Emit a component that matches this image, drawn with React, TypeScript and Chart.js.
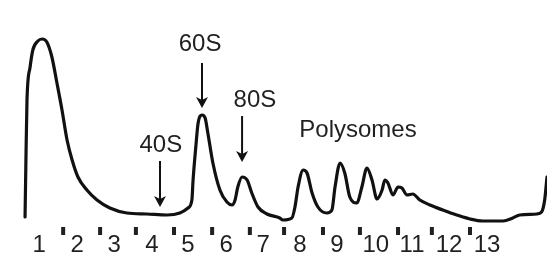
import React, { useEffect, useRef } from "react";
import { Chart, registerables } from "chart.js";

Chart.register(...registerables);

// Absorbance trace (x = position along the gradient, y = A254, arbitrary units)
const traceX = [
  0.59, 0.61, 0.64, 0.72, 0.79, 0.92, 1.03, 1.15, 1.28, 1.41, 1.54, 1.67, 1.8, 1.95, 2.18, 2.44, 2.77, 3.21, 3.72, 4.24,
  4.57, 4.78, 4.88, 4.91, 4.98, 5.04, 5.14, 5.22, 5.29, 5.42, 5.6, 5.78, 5.91, 5.99, 6.06, 6.17, 6.3, 6.42, 6.58, 6.81,
  7.14, 7.22, 7.45, 7.53, 7.61, 7.74, 7.84, 7.97, 8.12, 8.35, 8.48, 8.56, 8.69, 8.81, 8.94, 9.12, 9.25, 9.38, 9.51, 9.64,
  9.77, 9.84, 9.92, 10.05, 10.18, 10.28, 10.41, 10.56, 10.74, 11.0, 11.33, 11.69, 12.03, 12.36, 12.88, 13.13, 13.31, 13.75,
  13.87, 13.95, 14.01,
];
const traceY = [
  0.44, 0.94, 1.61, 1.94, 2.11, 2.2, 2.22, 2.19, 2.04, 1.78, 1.51, 1.21, 1.01, 0.84, 0.71, 0.61, 0.53, 0.48, 0.47, 0.46,
  0.48, 0.53, 0.61, 0.81, 1.14, 1.38, 1.46, 1.43, 1.28, 0.98, 0.71, 0.59, 0.56, 0.61, 0.74, 0.84, 0.81, 0.68, 0.54, 0.47,
  0.43, 0.41, 0.43, 0.54, 0.74, 0.91, 0.88, 0.68, 0.54, 0.48, 0.51, 0.74, 0.98, 0.88, 0.64, 0.58, 0.74, 0.93, 0.81, 0.62,
  0.71, 0.81, 0.78, 0.66, 0.74, 0.73, 0.66, 0.67, 0.61, 0.56, 0.51, 0.46, 0.42, 0.4, 0.4, 0.43, 0.46, 0.47,
  0.49, 0.61, 0.84,
];

// Fraction numbers and the dividers between collected fractions
const fractionLabels = ["1", "2", "3", "4", "5", "6", "7", "8", "9", "10", "11", "12", "13"];
const fractionCenters = [0.95, 1.93, 2.88, 3.85, 4.78, 5.76, 6.71, 7.66, 8.61, 9.61, 10.54, 11.49, 12.47];
const dividerX = [1.57, 2.52, 3.44, 4.42, 5.4, 6.37, 7.25, 8.25, 9.2, 10.18, 11.05, 12.03];
const dividerTop = 0.34;
const dividerBottom = 0.26;
const fractionLabelBaseline = 0.09;

// Peak annotations
const annotationTexts = ["40S", "60S", "80S", "Polysomes"];
const annotationTextX = [4.08, 5.09, 6.5, 9.15];
const annotationTextY = [1.09, 2.1, 1.54, 1.24];
const arrowX = [4.06, 5.14, 6.17, null];
const arrowFrom = [1.0, 1.98, 1.45, null];
const arrowTo = [0.54, 1.53, 0.99, null];

const FONT = '24px "Liberation Sans", Arial, sans-serif';
const TEXT_COLOR = "#231f20";

const annotationPlugin = {
  id: "profileAnnotations",
  afterDatasetsDraw(chart: any) {
    const { ctx } = chart;
    const xs = chart.scales.x;
    const ys = chart.scales.y;
    ctx.save();
    // fraction dividers
    ctx.fillStyle = TEXT_COLOR;
    dividerX.forEach((v) => {
      const px = xs.getPixelForValue(v);
      const top = ys.getPixelForValue(dividerTop);
      const bot = ys.getPixelForValue(dividerBottom);
      ctx.fillRect(px - 2, top, 4, bot - top);
    });
    // fraction numbers
    ctx.font = FONT;
    ctx.textAlign = "center";
    ctx.textBaseline = "alphabetic";
    fractionLabels.forEach((t, i) => {
      ctx.fillText(t, xs.getPixelForValue(fractionCenters[i]), ys.getPixelForValue(fractionLabelBaseline));
    });
    // annotations
    annotationTexts.forEach((t, i) => {
      ctx.fillStyle = TEXT_COLOR;
      ctx.fillText(t, xs.getPixelForValue(annotationTextX[i]), ys.getPixelForValue(annotationTextY[i]));
      const ax = arrowX[i];
      if (ax == null) return;
      const px = xs.getPixelForValue(ax);
      const y0 = ys.getPixelForValue(arrowFrom[i] as number);
      const y1 = ys.getPixelForValue(arrowTo[i] as number);
      ctx.strokeStyle = "#111";
      ctx.lineWidth = 2;
      ctx.beginPath();
      ctx.moveTo(px, y0);
      ctx.lineTo(px, y1 - 6);
      ctx.stroke();
      ctx.fillStyle = "#111";
      ctx.beginPath();
      ctx.moveTo(px, y1);
      ctx.lineTo(px - 6, y1 - 11);
      ctx.lineTo(px, y1 - 8);
      ctx.lineTo(px + 6, y1 - 11);
      ctx.closePath();
      ctx.fill();
    });
    ctx.restore();
  },
};

export default function App() {
  const canvasRef = useRef<HTMLCanvasElement | null>(null);

  useEffect(() => {
    const canvas = canvasRef.current;
    if (!canvas) return;
    const chart = new Chart(canvas, {
      type: "line",
      data: {
        datasets: [
          {
            data: traceX.map((x, i) => ({ x, y: traceY[i] })),
            borderColor: "#111111",
            borderWidth: 3.2,
            pointRadius: 0,
            fill: false,
            cubicInterpolationMode: "monotone",
            borderJoinStyle: "round",
            borderCapStyle: "round",
          },
        ],
      },
      options: {
        animation: false,
        responsive: true,
        maintainAspectRatio: false,
        layout: { padding: 0 },
        plugins: { legend: { display: false }, tooltip: { enabled: false } },
        scales: {
          x: { type: "linear", min: -0.054, max: 14.01, display: false },
          y: { type: "linear", min: 0, max: 2.61, display: false },
        },
      },
      plugins: [annotationPlugin],
    });
    return () => chart.destroy();
  }, []);

  return (
    <div style={{ position: "absolute", left: 0, top: 0, width: 547, height: 261, background: "#fff" }}>
      <canvas ref={canvasRef} />
    </div>
  );
}
